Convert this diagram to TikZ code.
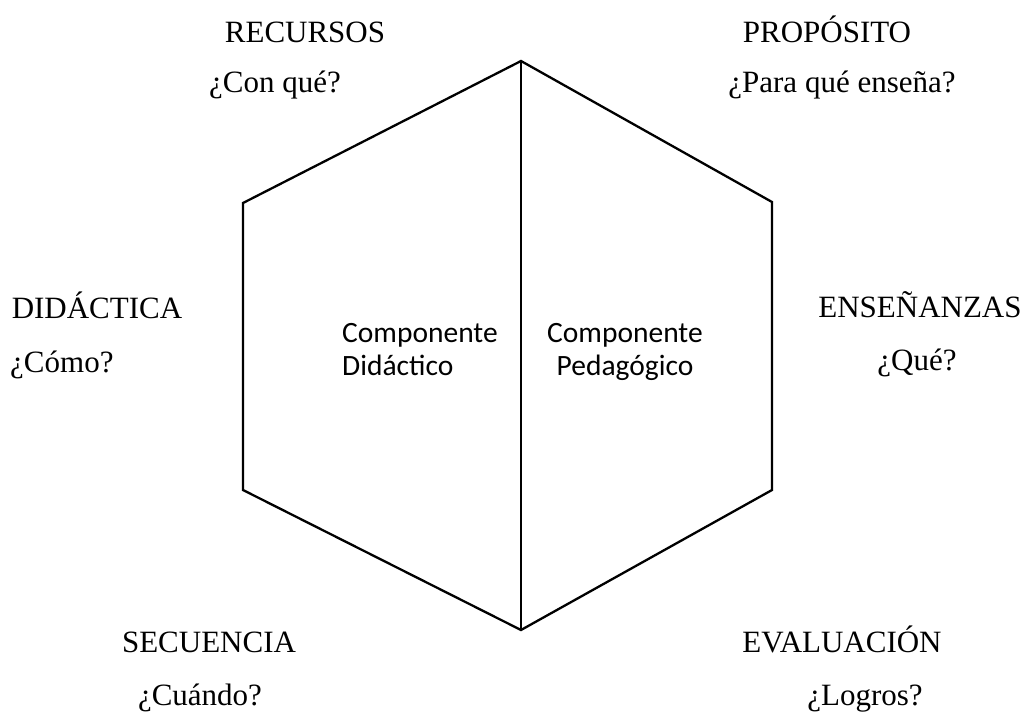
\documentclass[tikz,border=0pt]{standalone}
\usepackage{fontspec}
\setmainfont{Liberation Serif}
\newfontfamily\carlito{Carlito}
\tikzset{
  lbl/.style={anchor=base, inner sep=0pt, font=\fontsize{31}{36}\selectfont},
  inner/.style={anchor=base west, inner sep=0pt, font=\carlito\fontsize{29.5}{33}\selectfont},
  hexline/.style={line width=2.3pt, line join=miter}
}
\begin{document}
\begin{tikzpicture}[x=1pt,y=-1pt]
\useasboundingbox (0,0) rectangle (1024,712);
\coordinate (T) at (521,61);
\coordinate (UR) at (772,202);
\coordinate (LR) at (772,490);
\coordinate (B) at (521,630);
\coordinate (LL) at (243,490);
\coordinate (UL) at (243,203);
\draw[hexline] (T) -- (UR) -- (LR) -- (B) -- (LL) -- (UL) -- cycle;
\draw[hexline] (T) -- (B);

\node[lbl] (rec) at (305,42) {RECURSOS};
\node[lbl] (recq) at (275,92) {¿Con qué?};
\node[lbl] (pro) at (827,42) {PROPÓSITO};
\node[lbl] (proq) at (842,92) {¿Para qué enseña?};
\node[lbl] (did) at (97,318) {DIDÁCTICA};
\node[lbl,anchor=base west] (didq) at (10,372) {¿Cómo?};
\node[lbl] (ens) at (920,317) {ENSEÑANZAS};
\node[lbl] (ensq) at (917,370) {¿Qué?};
\node[lbl] (sec) at (209,652) {SECUENCIA};
\node[lbl] (secq) at (200,705) {¿Cuándo?};
\node[lbl] (eva) at (842,652) {EVALUACIÓN};
\node[lbl] (evaq) at (865,705) {¿Logros?};

\node[inner, align=left] (cd) at (342,375) {Componente\\Didáctico};
\node[inner, align=center] (cp) at (547,375) {Componente\\Pedagógico};
\end{tikzpicture}
\end{document}
